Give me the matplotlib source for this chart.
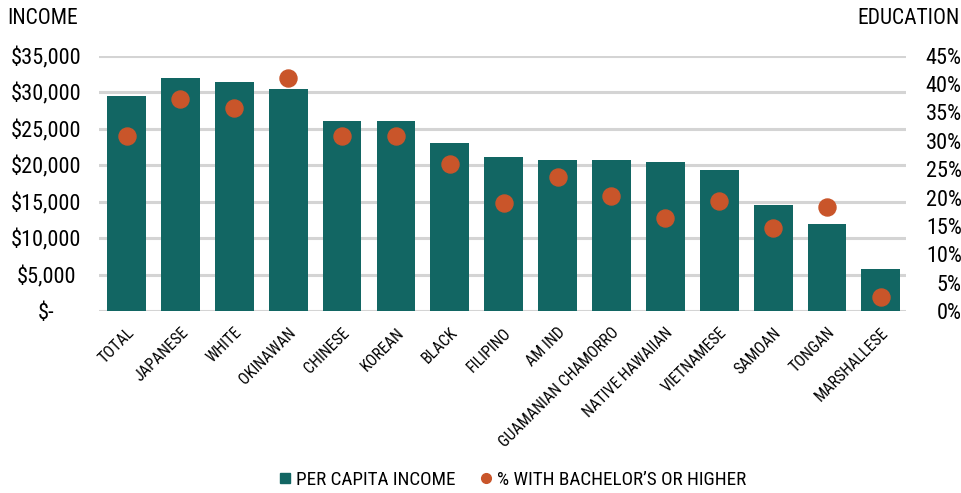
import numpy as np
import matplotlib
matplotlib.use("Agg")
import matplotlib.pyplot as plt
from matplotlib import font_manager as fm
from matplotlib.ticker import FuncFormatter, MultipleLocator
from matplotlib.lines import Line2D

groups = ["TOTAL", "JAPANESE", "WHITE", "OKINAWAN", "CHINESE", "KOREAN", "BLACK",
          "FILIPINO", "AM IND", "GUAMANIAN CHAMORRO", "NATIVE HAWAIIAN",
          "VIETNAMESE", "SAMOAN", "TONGAN", "MARSHALLESE"]
income = [29500, 31900, 31400, 30400, 26000, 26000, 23000,
          21100, 20700, 20700, 20400, 19300, 14500, 11900, 5800]
bachelors = [30.9, 37.4, 35.8, 41.1, 30.8, 30.8, 25.9,
             19.0, 23.6, 20.2, 16.4, 19.4, 14.6, 18.4, 2.4]

teal = "#126663"
orange = "#C9552A"
grid_c = "#d4d4d4"

# condensed face close to the original, if one is around
have = set(f.name for f in fm.fontManager.ttflist)
face = 'DejaVu Sans'
for cand in ['Avenir Next Condensed', 'Roboto Condensed', 'Open Sans Condensed',
             'Fira Sans Condensed', 'Barlow Semi Condensed', 'Liberation Sans Narrow',
             'Roboto']:
    if cand in have:
        face = cand
        break
plt.rcParams['font.family'] = [face, 'DejaVu Sans']

fig = plt.figure(figsize=(9.62, 4.93), dpi=100)
ax = fig.add_axes([0.103, 0.369, 0.839, 0.518])
x = np.arange(len(groups))

ax.bar(x, income, width=0.72, color=teal, zorder=2)
ax.set_ylim(0, 35000)
ax.set_xlim(-0.51, 14.47)
ax.yaxis.set_major_locator(MultipleLocator(5000))
ax.yaxis.grid(True, color=grid_c, linewidth=2.2, zorder=0)
ax.set_axisbelow(True)
for s in ax.spines.values():
    s.set_visible(False)
ax.tick_params(axis='both', length=0)
ax.yaxis.set_major_formatter(FuncFormatter(lambda v, p: "$-" if v == 0 else "${:,.0f}".format(v)))
ax.tick_params(axis='y', labelsize=16, pad=38)
for lab in ax.get_yticklabels():
    lab.set_ha('center')
ax.set_xticks(x)
ax.set_xticklabels(groups, rotation=45, ha='right', rotation_mode='anchor', fontsize=11.5)
ax.tick_params(axis='x', pad=10)

ax2 = ax.twinx()
ax2.scatter(x, bachelors, s=150, color=orange, zorder=3)
ax2.set_ylim(0, 45)
ax2.yaxis.set_major_locator(MultipleLocator(5))
ax2.yaxis.set_major_formatter(FuncFormatter(lambda v, p: "{:.0f}%".format(v)))
for s in ax2.spines.values():
    s.set_visible(False)
ax2.tick_params(axis='y', length=0, labelsize=16, pad=40)
for lab in ax2.get_yticklabels():
    lab.set_ha('right')

fig.text(0.008, 0.963, "INCOME", fontsize=15.5, va='center', ha='left')
fig.text(0.998, 0.963, "EDUCATION", fontsize=15.5, va='center', ha='right')

handles = [Line2D([], [], marker='s', color=teal, linestyle='none', markersize=6.5),
           Line2D([], [], marker='o', color=orange, linestyle='none', markersize=7)]
fig.legend(handles, ["PER CAPITA INCOME", "% WITH BACHELOR\u2019S OR HIGHER"],
           loc='center', bbox_to_anchor=(0.532, 0.026), ncol=2, frameon=False,
           fontsize=13.8, handletextpad=0.15, columnspacing=1.2, handlelength=0.8)

fig.savefig("out.png", dpi=100)
